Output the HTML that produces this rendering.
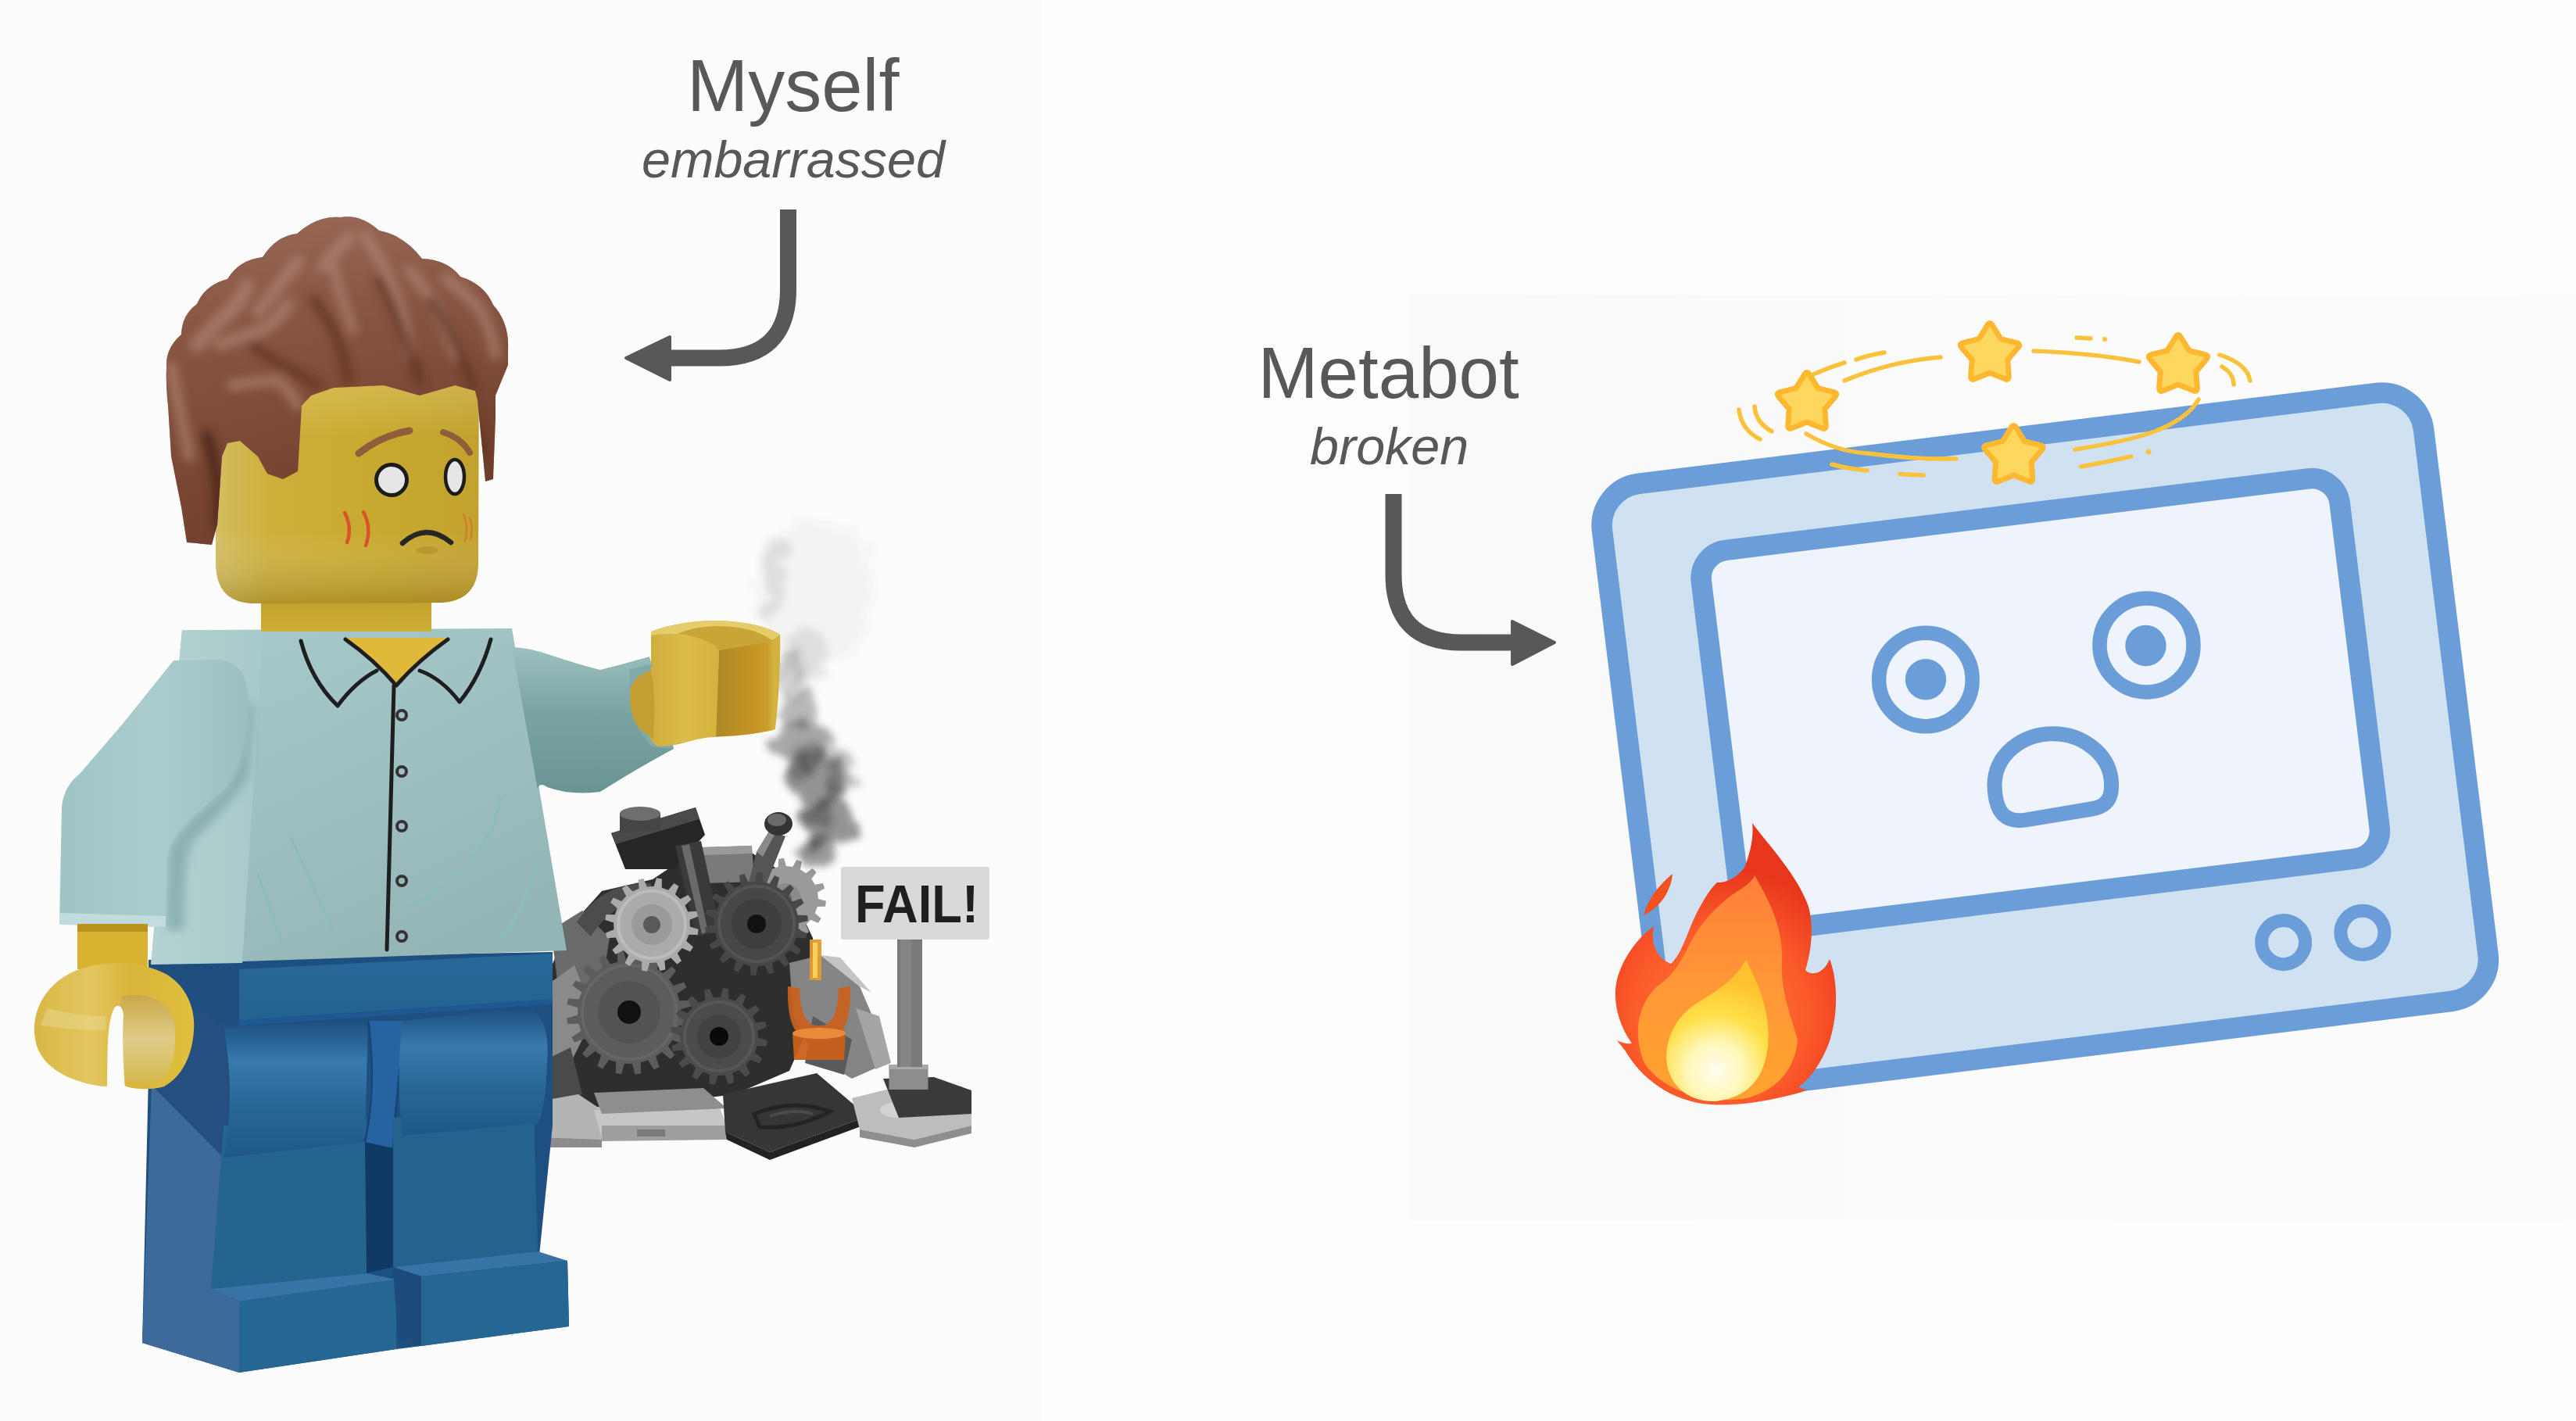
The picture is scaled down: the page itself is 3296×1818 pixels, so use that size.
<!DOCTYPE html>
<html><head><meta charset="utf-8">
<style>
html,body{margin:0;padding:0;background:#fefefe;}
svg{display:block;}
text{font-family:"Liberation Sans",sans-serif;}
</style></head>
<body>
<svg width="3296" height="1818" viewBox="0 0 3296 1818">
<defs>
  <linearGradient id="mbBg" x1="0" y1="0" x2="1" y2="0">
    <stop offset="0" stop-color="#f9f9f9"/><stop offset="0.5" stop-color="#fbfbfb"/><stop offset="1" stop-color="#fcfcfc"/>
  </linearGradient>
</defs>
<!-- backgrounds -->
<rect x="0" y="0" width="3296" height="1818" fill="#fefefe"/>
<rect x="0" y="0" width="1333" height="1818" fill="#fcfcfc"/>
<rect x="1805" y="377" width="1491" height="1184" fill="url(#mbBg)"/>

<!-- LEGO -->
<g id="lego">
  <defs>
    <linearGradient id="gShirt" x1="0" y1="0" x2="0.6" y2="1">
      <stop offset="0" stop-color="#a9caca"/><stop offset="0.6" stop-color="#9ebfbf"/><stop offset="1" stop-color="#93b5b5"/>
    </linearGradient>
    <linearGradient id="gShirtSide" x1="0" y1="0" x2="1" y2="0">
      <stop offset="0" stop-color="#b6d3d3"/><stop offset="1" stop-color="#a8c9c9"/>
    </linearGradient>
    <linearGradient id="gArmL" x1="0" y1="0" x2="1" y2="0">
      <stop offset="0" stop-color="#a0c4c4"/><stop offset="0.5" stop-color="#aacccc"/><stop offset="1" stop-color="#9cc0c0"/>
    </linearGradient>
    <linearGradient id="gArmR" x1="0" y1="0" x2="0" y2="1">
      <stop offset="0" stop-color="#9cc0c0"/><stop offset="0.45" stop-color="#7aa3a3"/><stop offset="1" stop-color="#6a9393"/>
    </linearGradient>
    <linearGradient id="gHead" x1="0" y1="0" x2="1" y2="0">
      <stop offset="0" stop-color="#d5bd62"/><stop offset="0.2" stop-color="#cdb03a"/><stop offset="0.6" stop-color="#c8aa30"/><stop offset="1" stop-color="#c2a22e"/>
    </linearGradient>
    <linearGradient id="gHeadV" x1="0" y1="0" x2="0" y2="1">
      <stop offset="0" stop-color="#fff3b0" stop-opacity="0.25"/><stop offset="0.3" stop-color="#ffffff" stop-opacity="0"/><stop offset="0.7" stop-color="#ffffff" stop-opacity="0"/><stop offset="1" stop-color="#6a5000" stop-opacity="0.3"/>
    </linearGradient>
    <linearGradient id="gNeck" x1="0" y1="0" x2="0" y2="1">
      <stop offset="0" stop-color="#9c7d1c"/><stop offset="0.4" stop-color="#c4a42e"/><stop offset="1" stop-color="#cdae36"/>
    </linearGradient>
    <linearGradient id="gHair" x1="0" y1="0" x2="1" y2="1">
      <stop offset="0" stop-color="#875440"/><stop offset="0.5" stop-color="#7a4733"/><stop offset="1" stop-color="#673a27"/>
    </linearGradient>
    <linearGradient id="gThigh" x1="0" y1="0" x2="0" y2="1">
      <stop offset="0" stop-color="#1b4f80"/><stop offset="0.3" stop-color="#3a79ad"/><stop offset="0.6" stop-color="#296797"/><stop offset="1" stop-color="#1f5888"/>
    </linearGradient>
    <linearGradient id="gHip" x1="0" y1="0" x2="0" y2="1">
      <stop offset="0" stop-color="#286898"/><stop offset="1" stop-color="#24618f"/>
    </linearGradient>
    <linearGradient id="gHandR" x1="0" y1="0" x2="1" y2="0">
      <stop offset="0" stop-color="#cfae40"/><stop offset="0.5" stop-color="#dcbc48"/><stop offset="1" stop-color="#d5b240"/>
    </linearGradient>
    <linearGradient id="gHandInner" x1="0" y1="0" x2="1" y2="0">
      <stop offset="0" stop-color="#b08828"/><stop offset="0.6" stop-color="#c49424"/><stop offset="0.85" stop-color="#c99c2c"/><stop offset="1" stop-color="#d9b748"/>
    </linearGradient>
    <linearGradient id="gHandL" x1="0" y1="0" x2="0" y2="1">
      <stop offset="0" stop-color="#e9cb55"/><stop offset="1" stop-color="#dcb63c"/>
    </linearGradient>
    <filter id="blur8" x="-80%" y="-50%" width="260%" height="200%"><feGaussianBlur stdDeviation="9"/></filter>
    <filter id="blur4" x="-80%" y="-50%" width="260%" height="200%"><feGaussianBlur stdDeviation="4"/></filter>
    <filter id="smokeF" x="-100%" y="-50%" width="300%" height="200%"><feTurbulence type="fractalNoise" baseFrequency="0.035" numOctaves="3" seed="7" result="n"/><feDisplacementMap in="SourceGraphic" in2="n" scale="40" xChannelSelector="R" yChannelSelector="G" result="d"/><feGaussianBlur in="d" stdDeviation="5"/></filter>
    <filter id="soft" x="-20%" y="-20%" width="140%" height="140%"><feGaussianBlur stdDeviation="1.5"/></filter>
  </defs>

  <!-- ============ gear pile ============ -->
  <g id="pile">
    <!-- dark back mass -->
    <path d="M700 1250 L725 1190 L770 1140 L835 1125 L880 1095 L960 1090 L1000 1115 L1040 1200 L1045 1290 L1010 1370 L940 1400 L780 1420 L700 1400 Z" fill="#2e2e2e"/>
    <!-- back left pieces -->
    <path d="M705 1190 L745 1165 L780 1200 L770 1260 L715 1270 Z" fill="#6a6a6a"/>
    <path d="M700 1260 L735 1235 L760 1300 L730 1360 L700 1370 Z" fill="#8a8a8a"/>
    <path d="M690 1360 L730 1340 L745 1400 L700 1420 Z" fill="#4a4a4a"/>
    <!-- light gear behind right -->
    <path d="M1047.0 1150.0 L1056.9 1152.8 L1056.1 1159.7 L1045.8 1160.1 L1042.8 1168.2 L1050.6 1175.1 L1046.8 1180.9 L1037.4 1176.8 L1031.2 1182.8 L1035.2 1192.3 L1029.2 1196.0 L1022.5 1188.2 L1014.3 1190.9 L1013.8 1201.2 L1006.9 1202.0 L1004.2 1192.0 L995.7 1190.9 L990.7 1200.0 L984.1 1197.6 L986.1 1187.5 L978.8 1182.8 L970.4 1188.9 L965.5 1183.9 L971.7 1175.6 L967.2 1168.2 L957.0 1170.0 L954.8 1163.4 L963.9 1158.6 L963.0 1150.0 L953.1 1147.2 L953.9 1140.3 L964.2 1139.9 L967.2 1131.8 L959.4 1124.9 L963.2 1119.1 L972.6 1123.2 L978.8 1117.2 L974.8 1107.7 L980.8 1104.0 L987.5 1111.8 L995.7 1109.1 L996.2 1098.8 L1003.1 1098.0 L1005.8 1108.0 L1014.3 1109.1 L1019.3 1100.0 L1025.9 1102.4 L1023.9 1112.5 L1031.2 1117.2 L1039.6 1111.1 L1044.5 1116.1 L1038.3 1124.4 L1042.8 1131.8 L1053.0 1130.0 L1055.2 1136.6 L1046.1 1141.4 Z" fill="#9a9a9a"/><circle cx="1005" cy="1150" r="20" fill="#8a8a8a"/><circle cx="1005" cy="1150" r="8" fill="#666"/>
    <!-- right light bricks -->
    <path d="M1010 1232 L1050 1222 L1100 1262 L1125 1320 L1135 1360 L1090 1380 L1040 1350 L1015 1300 Z" fill="#858585"/>
    <path d="M1050 1222 L1075 1225 L1115 1270 L1100 1262 Z" fill="#c4c4c4"/>
    <path d="M1095 1290 L1125 1300 L1140 1360 L1120 1368 Z" fill="#a5a5a5"/>
    <path d="M1040 1300 L1090 1330 L1080 1375 L1030 1360 Z" fill="#5a5a5a"/>
    <!-- black block & pegs -->
    <path d="M782 1066 L890 1033 L902 1068 L862 1112 L800 1112 Z" fill="#262626"/>
    <path d="M782 1066 L890 1033 L895 1048 L788 1080 Z" fill="#4a4a4a"/>
    <path d="M793 1040 Q819 1028 845 1040 L845 1062 L793 1066 Z" fill="#454545"/>
    <ellipse cx="819" cy="1041" rx="26" ry="9" fill="#6e6e6e"/>
    <path d="M898 1084 L962 1082 L965 1128 L905 1130 Z" fill="#7a7a7a"/>
    <path d="M898 1084 L962 1082 L962 1092 L900 1094 Z" fill="#9a9a9a"/>
    <path d="M864 1082 L897 1076 L922 1192 L890 1198 Z" fill="#3a3a3a"/>
    <path d="M872 1082 L882 1080 L906 1192 L898 1195 Z" fill="#6a6a6a"/>
    <path d="M955 1140 L968 1090 L985 1062 L1005 1070 L992 1102 L975 1145 Z" fill="#555"/>
    <path d="M968 1090 L985 1062 L992 1066 L976 1096 Z" fill="#8a8a8a"/>
    <ellipse cx="996" cy="1054" rx="18" ry="15" fill="#333"/>
    <ellipse cx="994" cy="1049" rx="12" ry="8" fill="#6a6a6a"/>
    <path d="M738 1180 Q770 1128 832 1130 L842 1150 Q788 1148 756 1198 Z" fill="#4c4c4c"/>
    <!-- gears -->
    <path d="M870.7 1300.8 L884.4 1305.0 L883.1 1312.4 L868.8 1311.8 L865.8 1320.8 L877.4 1329.0 L873.9 1335.7 L860.5 1330.7 L854.8 1338.3 L863.4 1349.7 L857.9 1355.0 L846.8 1346.1 L839.0 1351.6 L843.6 1365.1 L836.8 1368.4 L829.0 1356.5 L819.8 1359.3 L820.0 1373.6 L812.6 1374.6 L808.8 1360.9 L799.2 1360.7 L795.0 1374.4 L787.6 1373.1 L788.2 1358.8 L779.2 1355.8 L771.0 1367.4 L764.3 1363.9 L769.3 1350.5 L761.7 1344.8 L750.3 1353.4 L745.0 1347.9 L753.9 1336.8 L748.4 1329.0 L734.9 1333.6 L731.6 1326.8 L743.5 1319.0 L740.7 1309.8 L726.4 1310.0 L725.4 1302.6 L739.1 1298.8 L739.3 1289.2 L725.6 1285.0 L726.9 1277.6 L741.2 1278.2 L744.2 1269.2 L732.6 1261.0 L736.1 1254.3 L749.5 1259.3 L755.2 1251.7 L746.6 1240.3 L752.1 1235.0 L763.2 1243.9 L771.0 1238.4 L766.4 1224.9 L773.2 1221.6 L781.0 1233.5 L790.2 1230.7 L790.0 1216.4 L797.4 1215.4 L801.2 1229.1 L810.8 1229.3 L815.0 1215.6 L822.4 1216.9 L821.8 1231.2 L830.8 1234.2 L839.0 1222.6 L845.7 1226.1 L840.7 1239.5 L848.3 1245.2 L859.7 1236.6 L865.0 1242.1 L856.1 1253.2 L861.6 1261.0 L875.1 1256.4 L878.4 1263.2 L866.5 1271.0 L869.3 1280.2 L883.6 1280.0 L884.6 1287.4 L870.9 1291.2 Z" fill="#5c5c5c"/><circle cx="805" cy="1295" r="60" fill="none" stroke="#666" stroke-width="4"/><circle cx="805" cy="1295" r="40" fill="#535353"/><circle cx="805" cy="1295" r="15" fill="#111"/>
    <path d="M882.9 1185.6 L893.7 1189.0 L892.6 1195.9 L881.3 1195.8 L878.2 1204.1 L886.9 1211.4 L883.2 1217.4 L872.8 1212.9 L866.8 1219.4 L872.0 1229.4 L866.3 1233.6 L858.4 1225.5 L850.4 1229.2 L851.3 1240.4 L844.5 1242.1 L840.3 1231.6 L831.4 1231.9 L828.0 1242.7 L821.1 1241.6 L821.2 1230.3 L812.9 1227.2 L805.6 1235.9 L799.6 1232.2 L804.1 1221.8 L797.6 1215.8 L787.6 1221.0 L783.4 1215.3 L791.5 1207.4 L787.8 1199.4 L776.6 1200.3 L774.9 1193.5 L785.4 1189.3 L785.1 1180.4 L774.3 1177.0 L775.4 1170.1 L786.7 1170.2 L789.8 1161.9 L781.1 1154.6 L784.8 1148.6 L795.2 1153.1 L801.2 1146.6 L796.0 1136.6 L801.7 1132.4 L809.6 1140.5 L817.6 1136.8 L816.7 1125.6 L823.5 1123.9 L827.7 1134.4 L836.6 1134.1 L840.0 1123.3 L846.9 1124.4 L846.8 1135.7 L855.1 1138.8 L862.4 1130.1 L868.4 1133.8 L863.9 1144.2 L870.4 1150.2 L880.4 1145.0 L884.6 1150.7 L876.5 1158.6 L880.2 1166.6 L891.4 1165.7 L893.1 1172.5 L882.6 1176.7 Z" fill="#ababab"/><circle cx="834" cy="1183" r="43" fill="none" stroke="#bcbcbc" stroke-width="4"/><circle cx="834" cy="1183" r="26" fill="#9a9a9a"/><circle cx="834" cy="1183" r="11" fill="#595959"/>
    <path d="M1021.5 1189.5 L1032.9 1193.9 L1031.3 1200.6 L1019.1 1199.4 L1015.7 1207.4 L1024.9 1215.4 L1021.1 1221.2 L1010.1 1215.8 L1004.1 1222.1 L1010.1 1232.9 L1004.5 1237.0 L996.0 1228.2 L988.2 1232.1 L990.1 1244.2 L983.5 1246.1 L978.5 1235.0 L969.9 1236.0 L967.5 1248.0 L960.6 1247.6 L959.7 1235.4 L951.3 1233.4 L945.0 1243.9 L938.7 1241.1 L942.0 1229.3 L934.8 1224.6 L925.2 1232.3 L920.2 1227.5 L927.4 1217.6 L922.2 1210.6 L910.6 1214.6 L907.5 1208.4 L917.7 1201.5 L915.2 1193.2 L902.9 1193.0 L902.1 1186.1 L914.0 1183.1 L914.5 1174.5 L903.1 1170.1 L904.7 1163.4 L916.9 1164.6 L920.3 1156.6 L911.1 1148.6 L914.9 1142.8 L925.9 1148.2 L931.9 1141.9 L925.9 1131.1 L931.5 1127.0 L940.0 1135.8 L947.8 1131.9 L945.9 1119.8 L952.5 1117.9 L957.5 1129.0 L966.1 1128.0 L968.5 1116.0 L975.4 1116.4 L976.3 1128.6 L984.7 1130.6 L991.0 1120.1 L997.3 1122.9 L994.0 1134.7 L1001.2 1139.4 L1010.8 1131.7 L1015.8 1136.5 L1008.6 1146.4 L1013.8 1153.4 L1025.4 1149.4 L1028.5 1155.6 L1018.3 1162.5 L1020.8 1170.8 L1033.1 1171.0 L1033.9 1177.9 L1022.0 1180.9 Z" fill="#474747"/><circle cx="968" cy="1182" r="48" fill="none" stroke="#545454" stroke-width="4"/><circle cx="968" cy="1182" r="32" fill="#3e3e3e"/><circle cx="968" cy="1182" r="12" fill="#121212"/>
    <path d="M970.0 1327.7 L981.8 1331.1 L980.8 1338.3 L968.5 1338.2 L965.5 1346.7 L975.1 1354.3 L971.4 1360.6 L960.1 1355.8 L954.1 1362.6 L960.1 1373.3 L954.3 1377.7 L945.6 1368.9 L937.5 1372.8 L939.0 1385.0 L931.9 1386.9 L927.3 1375.5 L918.3 1376.0 L914.9 1387.8 L907.7 1386.8 L907.8 1374.5 L899.3 1371.5 L891.7 1381.1 L885.4 1377.4 L890.2 1366.1 L883.4 1360.1 L872.7 1366.1 L868.3 1360.3 L877.1 1351.6 L873.2 1343.5 L861.0 1345.0 L859.1 1337.9 L870.5 1333.3 L870.0 1324.3 L858.2 1320.9 L859.2 1313.7 L871.5 1313.8 L874.5 1305.3 L864.9 1297.7 L868.6 1291.4 L879.9 1296.2 L885.9 1289.4 L879.9 1278.7 L885.7 1274.3 L894.4 1283.1 L902.5 1279.2 L901.0 1267.0 L908.1 1265.1 L912.7 1276.5 L921.7 1276.0 L925.1 1264.2 L932.3 1265.2 L932.2 1277.5 L940.7 1280.5 L948.3 1270.9 L954.6 1274.6 L949.8 1285.9 L956.6 1291.9 L967.3 1285.9 L971.7 1291.7 L962.9 1300.4 L966.8 1308.5 L979.0 1307.0 L980.9 1314.1 L969.5 1318.7 Z" fill="#4b4b4b"/><circle cx="920" cy="1326" r="44" fill="none" stroke="#575757" stroke-width="4"/><circle cx="920" cy="1326" r="28" fill="#424242"/><circle cx="920" cy="1326" r="12" fill="#0a0a0a"/>
    <!-- bottom plates -->
    <path d="M684 1410 L740 1400 L770 1420 L770 1465 L690 1462 Z" fill="#b4b4b4"/>
    <path d="M684 1455 L770 1458 L770 1468 L690 1468 Z" fill="#8c8c8c"/>
    <path d="M760 1420 L920 1415 L932 1445 L770 1458 Z" fill="#c6c6c6"/>
    <path d="M770 1440 L932 1440 L932 1458 L770 1460 Z" fill="#9e9e9e"/>
    <rect x="815" y="1445" width="36" height="9" fill="#7a7a7a"/>
    <path d="M760 1398 L900 1392 L930 1418 L770 1425 Z" fill="#8e8e8e"/>
    <!-- dark tilted plate -->
    <path d="M925 1400 L1045 1373 L1110 1428 L985 1474 L928 1448 Z" fill="#363636"/>
    <path d="M928 1448 L985 1474 L1110 1428 L1110 1438 L985 1484 L930 1458 Z" fill="#222"/>
    <path d="M965 1425 Q1015 1405 1062 1422 Q1020 1445 972 1442 Z" fill="none" stroke="#242424" stroke-width="5"/>
    <path d="M985 1428 Q1015 1418 1040 1425" fill="none" stroke="#4a4a4a" stroke-width="4"/>
    <!-- right base plates -->
    <path d="M1090 1405 L1150 1390 L1243 1405 L1243 1440 L1170 1458 L1100 1445 Z" fill="#bdbdbd"/>
    <path d="M1100 1445 L1170 1458 L1243 1440 L1243 1450 L1170 1468 L1100 1455 Z" fill="#8e8e8e"/>
    <path d="M1140 1385 L1230 1390 L1243 1415 L1200 1425 L1150 1418 Z" fill="#373737"/>
    <ellipse cx="1150" cy="1420" rx="24" ry="10" fill="#d2d2d2"/>
    <!-- orange piece -->
    <rect x="1036" y="1202" width="15" height="52" fill="#e39a2e" opacity="0.95"/>
    <rect x="1040" y="1206" width="6" height="45" fill="#f5cf62"/>
    <path d="M1008 1262 Q1006 1330 1040 1332 L1056 1332 Q1090 1330 1088 1262 L1073 1264 Q1072 1310 1052 1312 L1044 1312 Q1024 1310 1023 1264 Z" fill="#c9621e" opacity="0.92"/>
    <path d="M1014 1322 L1082 1322 L1080 1356 L1016 1356 Z" fill="#c9601c" opacity="0.95"/>
    <ellipse cx="1048" cy="1322" rx="34" ry="7" fill="#e88a3a"/>
  </g>

  <!-- smoke -->
  <g filter="url(#smokeF)" fill="#3e3e3e">
    <ellipse cx="1045" cy="1090" rx="24" ry="20" opacity="0.5"/>
    <ellipse cx="1058" cy="1050" rx="34" ry="30" opacity="0.55"/>
    <ellipse cx="1045" cy="1000" rx="40" ry="34" opacity="0.55"/>
    <ellipse cx="1030" cy="950" rx="36" ry="28" opacity="0.45"/>
    <ellipse cx="1075" cy="985" rx="22" ry="26" opacity="0.3"/>
    <ellipse cx="1020" cy="905" rx="26" ry="26" opacity="0.35"/>
    <ellipse cx="1010" cy="860" rx="22" ry="28" opacity="0.22"/>
    <ellipse cx="1045" cy="760" rx="75" ry="95" opacity="0.05"/>
    <ellipse cx="990" cy="740" rx="14" ry="55" opacity="0.1"/>
    <ellipse cx="1030" cy="840" rx="30" ry="34" opacity="0.1"/>
  </g>
  <g filter="url(#smokeF)" fill="#2e2e2e">
    <ellipse cx="1050" cy="1040" rx="18" ry="24" opacity="0.35"/>
    <ellipse cx="1030" cy="975" rx="16" ry="20" opacity="0.3"/>
    <ellipse cx="1068" cy="1010" rx="10" ry="14" opacity="0.3"/>
    <ellipse cx="1040" cy="1080" rx="12" ry="12" opacity="0.3"/>
  </g>

  <!-- FAIL sign -->
  <path d="M1130 1380 L1195 1378 L1243 1395 L1243 1425 L1150 1430 Z" fill="#3a3a3a"/>
  <rect x="1137.5" y="1362" width="50" height="32" fill="#8c8c8c"/>
  <rect x="1137.5" y="1362" width="50" height="6" fill="#a8a8a8"/>
  <rect x="1148" y="1200" width="32" height="165" fill="#7a7a7a"/>
  <rect x="1152" y="1200" width="14" height="165" fill="#8a8a8a" opacity="0.6"/>
  <rect x="1076" y="1109" width="190" height="93" rx="3" fill="#d9d9d9"/>
  <text x="1094" y="1180" font-size="69" font-weight="bold" fill="#1f1f1f" textLength="158" lengthAdjust="spacingAndGlyphs">FAIL!</text>

  <!-- ============ hips & legs ============ -->
  <!-- pants back fill -->
  <path d="M190 1228 L707 1218 L707 1440 L690 1606 L726 1613 L728 1697 L539 1722 L507 1726 L306 1756 L182 1718 L192 1290 Z" fill="#1d4f80"/>
  <!-- shadow under hips / side -->
  <path d="M190 1228 L306 1240 L306 1312 L250 1300 L192 1288 Z" fill="#1f4e7e"/>
  <!-- left leg side face -->
  <path d="M194 1388 L286 1481 L270 1649 L306 1665 L306 1756 L182 1718 Z" fill="#3d6a98"/>
  <path d="M194 1290 Q250 1280 286 1314 Q300 1400 286 1481 L194 1388 Z" fill="#244f7e"/>
  <!-- left lower leg front -->
  <path d="M286 1440 L469 1430 L469 1629 L270 1649 Z" fill="#25648f"/>
  <!-- left thigh -->
  <path d="M286 1314 L471 1306 L467 1461 L286 1481 Q302 1400 286 1314 Z" fill="url(#gThigh)"/>
  <path d="M270 1649 L469 1629 L507 1637 L306 1665 Z" fill="#3873a5"/>
  <path d="M306 1665 L507 1637 L507 1726 L306 1756 Z" fill="#266692"/>
  <!-- crotch -->
  <path d="M467 1461 L503 1469 L503 1621 L469 1629 Z" fill="#0f3a66"/>
  <path d="M471 1306 L519 1306 Q508 1400 503 1469 L467 1461 Q478 1390 471 1306 Z" fill="#2663a0"/>
  <path d="M471 1306 Q482 1390 467 1461 M519 1306 Q508 1390 503 1469" fill="none" stroke="#164776" stroke-width="3"/>
  <!-- right lower leg -->
  <path d="M503 1430 L683 1420 L688 1601 L503 1621 Z" fill="#25638e"/>
  <!-- right thigh -->
  <path d="M515 1306 L675 1290 Q705 1300 700 1360 Q698 1420 688 1437 L515 1453 Q506 1380 515 1306 Z" fill="url(#gThigh)"/>
  <path d="M503 1621 L688 1601 L726 1613 L539 1633 Z" fill="#3873a5"/>
  <path d="M539 1633 L726 1613 L728 1697 L539 1722 Z" fill="#266692"/>
  <path d="M503 1621 L539 1633 L539 1722 L509 1714 Z" fill="#1d4b7a"/>
  <!-- hip band -->
  <path d="M306 1240 L707 1220 L707 1284 L306 1312 Z" fill="url(#gHip)"/>
  <path d="M306 1305 L707 1278 L707 1284 L306 1312 Z" fill="#1f5890"/>

  <!-- ============ torso ============ -->
  <path d="M233 806 L655 804 L725 1216 L193 1234 Z" fill="url(#gShirt)"/>
  <path d="M233 806 L337 806 L310 1232 L193 1234 Z" fill="url(#gShirtSide)"/>
  <!-- collar / neckline -->
  <path d="M440 816 L575 816 Q540 845 507 877 Q475 845 440 816 Z" fill="#e0b93a"/>
  <g fill="none" stroke="#1e1e1e" stroke-width="5" stroke-linejoin="round" stroke-linecap="round">
    <path d="M385 820 Q398 870 432 903 Q455 872 482 858"/>
    <path d="M628 818 Q615 865 588 898 Q565 868 537 858"/>
    <path d="M442 818 Q480 845 507 877 Q535 845 573 818"/>
    <path d="M504 877 L495 1215"/>
  </g>
  <g fill="none" stroke="#333" stroke-width="4">
    <circle cx="514" cy="915" r="6"/><circle cx="514" cy="987" r="6"/><circle cx="514" cy="1057" r="6"/><circle cx="514" cy="1127" r="6"/><circle cx="514" cy="1198" r="6"/>
  </g>
  <g fill="none" stroke="#8bbcbc" stroke-width="3.5" stroke-linecap="round">
    <path d="M372 1072 Q400 1130 430 1200"/><path d="M330 1118 Q348 1165 360 1205"/>
    <path d="M640 1022 Q625 1110 522 1160"/><path d="M686 1100 Q670 1170 640 1200"/>
  </g>

  <!-- ============ left arm ============ -->
  <path d="M316 900 L312 952 Q305 985 287 1010 Q250 1040 228 1065 Q215 1080 214 1100 L212 1190 L236 1190 Q234 1100 248 1075 Q290 1035 318 995 L326 900 Z" fill="#6f9898" opacity="0.55" filter="url(#hairBlur)"/>
  <path d="M222 845 L280 844 Q316 846 318 895 L312 952 Q305 985 287 1010 Q250 1040 228 1065 Q215 1080 214 1100 L212 1185 L76 1182 L79 1032 Q82 1005 102 990 L157 926 Z" fill="url(#gArmL)"/>
  <path d="M76 1168 L212 1172 L212 1186 L76 1183 Z" fill="#c0dcdb"/>
  <!-- left wrist -->
  <rect x="99" y="1182" width="90" height="58" fill="#d9b232"/>
  <rect x="99" y="1182" width="90" height="10" fill="#b8941f"/>
  <!-- left hand (C) -->
  <defs>
    <linearGradient id="gHandL2" x1="0" y1="0" x2="1" y2="0">
      <stop offset="0" stop-color="#d8b844"/><stop offset="0.35" stop-color="#e2c660"/><stop offset="0.6" stop-color="#d9b53a"/><stop offset="1" stop-color="#e0bf3e"/>
    </linearGradient>
    <linearGradient id="gHandIn" x1="0" y1="0" x2="0" y2="1">
      <stop offset="0" stop-color="#c9a848"/><stop offset="0.5" stop-color="#e0cc8a"/><stop offset="1" stop-color="#d6b84c"/>
    </linearGradient>
  </defs>
  <path d="M132 1390 C100 1386 58 1372 47 1338 C36 1300 55 1262 92 1244 C125 1228 178 1228 212 1246 C240 1262 250 1292 248 1318 C246 1352 232 1378 210 1390 C193 1395 172 1394 158 1389 Z" fill="url(#gHandL2)"/>
  <path d="M156 1275 C185 1268 218 1280 223 1310 C226 1340 222 1370 205 1384 C185 1388 165 1385 156 1380 C150 1340 150 1300 156 1275 Z" fill="url(#gHandIn)"/>
  <path d="M137 1392 C138 1350 136 1310 146 1290 C152 1282 158 1290 158 1300 C156 1330 158 1360 160 1394 Z" fill="#fcfcfc"/>
  <path d="M60 1290 Q100 1300 135 1300 L136 1318 Q95 1318 52 1312 Z" fill="#eedc98" opacity="0.45"/>

  <!-- ============ right arm ============ -->
  <path d="M655 828 Q675 828 704 838 Q740 850 768 857 Q800 849 831 840 L862 958 Q812 985 768 1013 Q730 1018 700 1007 Q690 1000 688 1010 Z" fill="url(#gArmR)"/>
  <path d="M806 856 L833 850 L862 958 L833 955 Q806 925 806 890 Z" fill="#7eaaaa"/>
  <!-- right hand -->
  <path d="M833 808 C860 798 890 794 916 794 C950 795 980 800 998 812 C999 850 996 900 992 933 C960 941 920 943 894 944 C880 950 860 955 842 955 C836 952 832 946 830 940 C815 935 806 915 806 889 C806 872 818 862 833 858 Z" fill="#d4b03e"/>
  <path d="M867 811 C895 814 912 822 920 832 L990 820 C975 806 945 800 916 800 C895 801 878 805 867 811 Z" fill="#c9a436"/>
  <path d="M920 832 L990 820 C994 860 993 900 990 934 C960 940 940 942 916 942 Z" fill="url(#gHandInner)"/>
  <path d="M833 812 C850 810 860 810 867 811 C895 814 912 822 920 832 L916 942 C895 944 880 950 842 955 L832 942 C834 900 834 860 833 812 Z" fill="url(#gHandR)"/>
  <path d="M833 808 C860 798 890 794 916 794 C950 795 980 800 998 812 C993 816 990 818 988 819 C970 806 945 801 916 801 C893 802 877 806 867 811 C855 811 843 811 833 813 Z" fill="#e6cc6a"/>
  <path d="M833 858 C818 862 806 872 806 889 C806 915 815 935 830 940 L836 946 C838 910 838 880 833 858 Z" fill="#c39e32"/>

  <!-- ============ neck & head ============ -->
  <rect x="334" y="752" width="218" height="56" fill="url(#gNeck)"/>
  <path d="M276 470 L613 465 L612 722 Q611 768 566 771 L322 772 Q277 770 276 722 Z" fill="url(#gHead)"/>
  <path d="M276 470 L613 465 L612 722 Q611 768 566 771 L322 772 Q277 770 276 722 Z" fill="url(#gHeadV)"/>
  <!-- face -->
  <g fill="none" stroke-linecap="round">
    <path d="M459 580 Q488 557 524 551" stroke="#8f5d3a" stroke-width="9"/>
    <path d="M567 553 Q590 560 601 579" stroke="#8f5d3a" stroke-width="8"/>
    <path d="M515 695 Q545 668 577 694" stroke="#262626" stroke-width="6.5"/>
    <path d="M441 656 Q451 675 444 694 M465 655 Q476 676 468 698" stroke="#d9542a" stroke-width="4.5"/>
    <path d="M593 658 Q600 675 595 692 M601 662 Q606 676 602 690" stroke="#d9642a" stroke-width="2.5" opacity="0.55"/>
  </g>
  <ellipse cx="546" cy="704" rx="14" ry="5" fill="#a88a28" opacity="0.5"/>
  <circle cx="501" cy="614" r="19.5" fill="#e6e6e6" stroke="#1c1c1c" stroke-width="5"/>
  <ellipse cx="582" cy="610" rx="12" ry="22" fill="#e6e6e6" stroke="#1c1c1c" stroke-width="4.5"/>

  <!-- ============ hair ============ -->
  <path d="M239 694 L271 697 L278 671 L284 584 L291 567 L307 564 L330 584 L342 606 L362 613 L381 603 L386 519 L398 506 L427 496 L491 493 L537 506 L582 493 L608 500 L611 512 L618 584 L621 616 L631 613 L634 535 L634 506 L650 467 L650 448 Q652.1 413.2 631 390 Q619.8 363.5 589 354 Q572.0 331.9 540 331 Q516.8 300.7 485 295 Q461.6 273.6 436 278 Q406.2 275.6 380 299 Q353.2 301.9 336 329 Q305.9 332.4 291 357 Q262.0 364.7 252 389 Q232.5 403.1 232 428 Q211.5 445.4 213 470 Q212 495 215 519 L219 584 L232 649 Z" fill="url(#gHair)"/>
  <!-- hair tufts shading -->
  <defs>
    <clipPath id="hairClip"><path d="M239 694 L271 697 L278 671 L284 584 L291 567 L307 564 L330 584 L342 606 L362 613 L381 603 L386 519 L398 506 L427 496 L491 493 L537 506 L582 493 L608 500 L611 512 L618 584 L621 616 L631 613 L634 535 L634 506 L650 467 L650 448 Q652.1 413.2 631 390 Q619.8 363.5 589 354 Q572.0 331.9 540 331 Q516.8 300.7 485 295 Q461.6 273.6 436 278 Q406.2 275.6 380 299 Q353.2 301.9 336 329 Q305.9 332.4 291 357 Q262.0 364.7 252 389 Q232.5 403.1 232 428 Q211.5 445.4 213 470 Q212 495 215 519 L219 584 L232 649 Z"/></clipPath>
    <linearGradient id="gHairTop" x1="0" y1="0" x2="0" y2="1">
      <stop offset="0" stop-color="#a37262" stop-opacity="0.7"/><stop offset="0.55" stop-color="#8a5644" stop-opacity="0.3"/><stop offset="1" stop-color="#5a3020" stop-opacity="0.2"/>
    </linearGradient>
    <filter id="hairBlur" x="-20%" y="-20%" width="140%" height="140%"><feGaussianBlur stdDeviation="6"/></filter>
  </defs>
  <g clip-path="url(#hairClip)">
    <rect x="200" y="270" width="460" height="440" fill="url(#gHairTop)"/>
    <g filter="url(#hairBlur)" fill="none" stroke-linecap="round">
      <g stroke="#b48c7e" opacity="0.55">
        <path d="M252 441 Q280 410 297 396 Q310 380 316 367" stroke-width="20"/>
        <path d="M281 441 Q310 430 336 422 Q355 410 368 390" stroke-width="17"/>
        <path d="M330 399 Q345 380 355 367 Q370 350 381 335" stroke-width="17"/>
        <path d="M414 341 Q430 320 446 305" stroke-width="17"/>
        <path d="M466 302 Q480 320 491 341 Q502 365 511 390 Q520 420 524 454" stroke-width="15"/>
        <path d="M524 347 Q540 365 556 390 Q570 420 582 454" stroke-width="15"/>
        <path d="M572 357 Q595 375 614 396 Q628 420 634 454" stroke-width="15"/>
        <path d="M427 341 Q432 360 433 367 Q442 395 452 422" stroke-width="13"/>
        <path d="M297 493 Q325 488 355 487 Q372 500 381 519" stroke-width="15"/>
        <path d="M219 470 Q224 495 229 519 Q235 550 242 584" stroke-width="15"/>
      </g>
      <g stroke="#5a3020" opacity="0.7">
        <path d="M401 383 Q415 402 427 422 Q440 455 446 487" stroke-width="12"/>
        <path d="M485 357 Q500 385 511 415 Q525 450 537 487" stroke-width="12"/>
        <path d="M550 383 Q568 410 582 441 Q595 468 605 493" stroke-width="11"/>
        <path d="M323 441 Q340 455 362 467 Q385 480 407 493" stroke-width="11"/>
        <path d="M598 506 Q612 545 621 584" stroke-width="10"/>
      </g>
      <path d="M265 558 Q274 590 278 616 Q281 650 281 674" stroke="#4a281a" stroke-width="16" opacity="0.8"/>
    </g>
  </g>
</g>
<!-- labels -->
<g fill="#585858">
  <text x="879" y="141.6" font-size="94">Myself</text>
  <text x="821" y="227.3" font-size="66.5" font-style="italic">embarrassed</text>
  <text x="1609.5" y="509" font-size="92.5">Metabot</text>
  <text x="1676" y="594" font-size="66.5" font-style="italic">broken</text>
</g>
<!-- arrows -->
<g fill="none" stroke="#585858" stroke-width="21">
  <path d="M1008.5 268 V370 Q1008.5 458 920 458 H850"/>
  <path d="M1783 632 V735 Q1783 822 1870 822 H1945"/>
</g>
<g fill="#585858" stroke="#585858" stroke-width="4" stroke-linejoin="round">
  <path d="M801 458 L857 431 L857 486 Z"/>
  <path d="M1989 822 L1935 795 L1935 850 Z"/>
</g>

<!-- METABOT -->
<g id="metabot">
  <g transform="translate(2615 940) rotate(-7)">
    <rect x="-529" y="-382" width="1059" height="784" rx="54" fill="#d0e1f2" stroke="#6b9dd8" stroke-width="26.5"/>
    <rect x="-411" y="-284" width="823" height="490" rx="36" fill="#eff3fc" stroke="#6b9dd8" stroke-width="26.5"/>
    <circle cx="272" cy="301" r="28" fill="none" stroke="#6b9dd8" stroke-width="17"/>
    <circle cx="374" cy="301" r="28" fill="none" stroke="#6b9dd8" stroke-width="17"/>
  </g>
  <g fill="none" stroke="#6b9dd8" stroke-width="18.5">
    <circle cx="2463.9" cy="869.4" r="59.75"/>
    <circle cx="2746.5" cy="825.4" r="60"/>
  </g>
  <g fill="#6b9dd8">
    <circle cx="2464" cy="869.2" r="26.2"/>
    <circle cx="2745.5" cy="826" r="26.2"/>
  </g>
  <path d="M2627 938.8 C2664 938.8 2697 964 2701 996 C2704 1020 2696 1032 2676 1035 L2592 1049 C2566 1053 2553 1040 2552 1005 C2552 965 2588 938.8 2627 938.8 Z" fill="none" stroke="#6b9dd8" stroke-width="19" stroke-linejoin="round"/>
</g>
<g id="stars">
<g fill="none" stroke="#f9c23a" stroke-width="5.5" stroke-linecap="round">
<path d="M2360 487 Q2420 462 2483 457"/>
<path d="M2602 449 Q2680 452 2737 463"/>
<path d="M2311 555 Q2350 578 2390 580 Q2450 588 2503 587"/>
<path d="M2655 575 Q2720 565 2757 552 Q2800 535 2813 511"/>
<path d="M2320 479 Q2340 470 2360 464"/>
<path d="M2375 460 Q2392 454 2411 451"/>
<path d="M2657 432 L2675 433"/>
<path d="M2840 454 Q2875 465 2879 487"/>
<path d="M2843 469 Q2858 478 2858 492"/>
<path d="M2225 524 Q2228 550 2252 562"/>
<path d="M2245 520 Q2246 540 2267 552"/>
<path d="M2344 594 Q2365 600 2389 602"/>
<path d="M2431 606.5 L2461 608"/>
<path d="M2663 597 Q2700 590 2727 584"/>
</g>
<circle cx="2693" cy="434" r="3" fill="#f9c43c"/><circle cx="2749" cy="578" r="3.5" fill="#f9c43c"/>
<path d="M2308.9 479.0 Q2312.0 474.0 2315.1 479.0 L2326.1 496.6 L2346.3 501.6 Q2351.9 503.0 2348.2 507.5 L2334.8 523.4 L2336.3 544.1 Q2336.7 550.0 2331.3 547.8 L2312.0 540.0 L2292.7 547.8 Q2287.3 550.0 2287.7 544.1 L2289.2 523.4 L2275.8 507.5 Q2272.1 503.0 2277.7 501.6 L2297.9 496.6 Z" fill="#fdd65c" stroke="#fbb830" stroke-width="7" stroke-linejoin="round"/>
<path d="M2542.9 416.0 Q2546.0 411.0 2549.1 416.0 L2560.1 433.6 L2580.3 438.6 Q2585.9 440.0 2582.2 444.5 L2568.8 460.4 L2570.3 481.1 Q2570.7 487.0 2565.3 484.8 L2546.0 477.0 L2526.7 484.8 Q2521.3 487.0 2521.7 481.1 L2523.2 460.4 L2509.8 444.5 Q2506.1 440.0 2511.7 438.6 L2531.9 433.6 Z" fill="#fdd65c" stroke="#fbb830" stroke-width="7" stroke-linejoin="round"/>
<path d="M2783.9 431.0 Q2787.0 426.0 2790.1 431.0 L2801.1 448.6 L2821.3 453.6 Q2826.9 455.0 2823.2 459.5 L2809.8 475.4 L2811.3 496.1 Q2811.7 502.0 2806.3 499.8 L2787.0 492.0 L2767.7 499.8 Q2762.3 502.0 2762.7 496.1 L2764.2 475.4 L2750.8 459.5 Q2747.1 455.0 2752.7 453.6 L2772.9 448.6 Z" fill="#fdd65c" stroke="#fbb830" stroke-width="7" stroke-linejoin="round"/>
<path d="M2573.3 547.0 Q2576.4 542.0 2579.5 547.0 L2590.5 564.6 L2610.7 569.6 Q2616.3 571.0 2612.6 575.5 L2599.2 591.4 L2600.7 612.1 Q2601.1 618.0 2595.7 615.8 L2576.4 608.0 L2557.1 615.8 Q2551.7 618.0 2552.1 612.1 L2553.6 591.4 L2540.2 575.5 Q2536.5 571.0 2542.1 569.6 L2562.3 564.6 Z" fill="#fdd65c" stroke="#fbb830" stroke-width="7" stroke-linejoin="round"/>
</g>
<g id="fire">
  <defs>
    <radialGradient id="fOuter" cx="2200" cy="1300" r="190" gradientUnits="userSpaceOnUse">
      <stop offset="0" stop-color="#ff7a2e"/><stop offset="0.6" stop-color="#fb5a2a"/><stop offset="1" stop-color="#e8361c"/>
    </radialGradient>
    <linearGradient id="fMid" x1="0" y1="0" x2="0" y2="1">
      <stop offset="0" stop-color="#ff7f3a"/><stop offset="0.5" stop-color="#ff9836"/><stop offset="1" stop-color="#ffa22e"/>
    </linearGradient>
    <radialGradient id="fCore" cx="2195" cy="1370" r="120" gradientUnits="userSpaceOnUse">
      <stop offset="0" stop-color="#fffdf0"/><stop offset="0.3" stop-color="#fff7b8"/><stop offset="0.6" stop-color="#ffe04a"/><stop offset="1" stop-color="#ffc12e"/>
    </radialGradient>
  </defs>
  <path d="M2242 1053 C2262 1080 2300 1120 2314 1160 C2322 1190 2316 1222 2310 1241 C2318 1250 2334 1245 2341 1227 C2352 1255 2352 1300 2340 1335 C2330 1360 2318 1378 2301 1391 L2312 1395 C2280 1405 2230 1416 2189 1413 C2140 1410 2100 1380 2080 1345 L2069 1331 C2075 1334 2082 1336 2088 1335 C2070 1310 2064 1280 2068 1258 C2074 1228 2095 1200 2116 1185 C2112 1205 2118 1225 2138 1233 C2152 1220 2158 1195 2170 1170 C2180 1150 2190 1135 2197 1129 C2210 1130 2225 1120 2232 1110 C2240 1090 2244 1070 2242 1053 Z" fill="url(#fOuter)"/>
  <path d="M2103 1171 C2108 1150 2125 1130 2140 1118 C2138 1140 2125 1160 2103 1171 Z" fill="#f4511e"/>
  <path d="M2245 1120 C2262 1150 2282 1185 2280 1230 C2278 1270 2292 1300 2300 1330 C2298 1362 2278 1396 2230 1406 C2180 1411 2128 1396 2104 1360 C2088 1322 2096 1285 2120 1262 C2140 1250 2152 1228 2162 1208 C2176 1180 2196 1160 2216 1145 C2232 1135 2243 1127 2245 1120 Z" fill="url(#fMid)"/>
  <path d="M2234 1228 C2252 1262 2266 1300 2262 1338 C2258 1378 2238 1404 2195 1409 C2158 1410 2132 1386 2132 1350 C2134 1318 2150 1298 2170 1284 C2196 1268 2220 1254 2234 1228 Z" fill="url(#fCore)"/>
</g>

</svg>
</body></html>
